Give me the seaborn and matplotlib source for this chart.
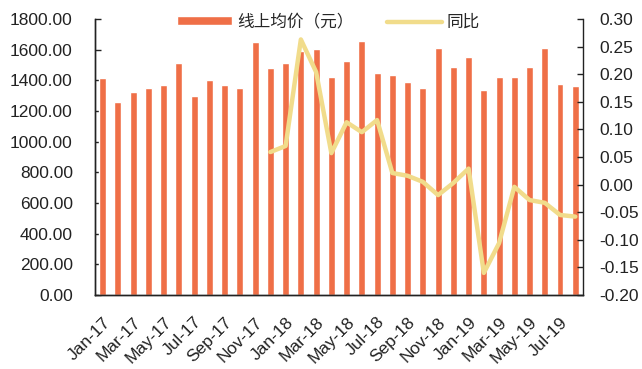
import numpy as np
import pandas as pd
import matplotlib
matplotlib.use("Agg")
import matplotlib.pyplot as plt
from matplotlib.ticker import FormatStrFormatter
import seaborn as sns

# Monthly online average price (yuan), Jan-2017 .. Aug-2019
months = ["Jan-17", "Feb-17", "Mar-17", "Apr-17", "May-17", "Jun-17", "Jul-17", "Aug-17",
          "Sep-17", "Oct-17", "Nov-17", "Dec-17", "Jan-18", "Feb-18", "Mar-18", "Apr-18",
          "May-18", "Jun-18", "Jul-18", "Aug-18", "Sep-18", "Oct-18", "Nov-18", "Dec-18",
          "Jan-19", "Feb-19", "Mar-19", "Apr-19", "May-19", "Jun-19", "Jul-19", "Aug-19"]
price = [1418, 1260, 1325, 1350, 1372, 1515, 1295, 1405,
         1372, 1350, 1648, 1482, 1515, 1590, 1605, 1425,
         1525, 1657, 1450, 1437, 1392, 1348, 1612, 1490,
         1555, 1340, 1425, 1425, 1490, 1612, 1373, 1360]

# Year-on-year change, available from Dec-17 onward
yoy_months = months[11:]
yoy = [0.059, 0.070, 0.263, 0.204, 0.057, 0.113, 0.095, 0.117,
       0.021, 0.016, 0.005, -0.019, 0.003, 0.029, -0.160, -0.106,
       -0.004, -0.028, -0.033, -0.055, -0.058]

price_ticks = [0, 200, 400, 600, 800, 1000, 1200, 1400, 1600, 1800]
yoy_ticks = [-0.20, -0.15, -0.10, -0.05, 0.00, 0.05, 0.10, 0.15, 0.20, 0.25, 0.30]

bar_color = "#EF6F47"
line_color = "#F1DC8B"
ink = "#222222"

sns.set_theme(style="white")
plt.rcParams["font.family"] = ["Liberation Sans", "Noto Sans CJK SC", "DejaVu Sans"]

fig = plt.figure(figsize=(6.42, 3.69), dpi=100)
ax = fig.add_axes([0.148, 0.2005, 0.760, 0.748])

df = pd.DataFrame({"month": months, "price": price})
sns.barplot(data=df, x="month", y="price", order=months, ax=ax,
            color=bar_color, saturation=1, width=0.45, label="线上均价（元）")
ax.set_xlim(-0.5, len(months) - 0.5)
ax.set_ylim(price_ticks[0], price_ticks[-1])
ax.set_yticks(price_ticks)
ax.yaxis.set_major_formatter(FormatStrFormatter("%.2f"))
ax.set_xlabel("")
ax.set_ylabel("")

# category labels every second month, tick marks on category boundaries
ax.set_xticks(range(0, len(months), 2))
ax.set_xticklabels(months[::2], rotation=45, ha="right", rotation_mode="anchor")
ax.set_xticks(np.arange(0.5, len(months) - 0.5, 1), minor=True)
ax.tick_params(axis="x", which="major", length=0, pad=14, labelsize=12.5, colors=ink)
ax.tick_params(axis="x", which="minor", direction="in", length=4, width=1, color=ink)
ax.tick_params(axis="y", direction="in", length=4, width=1, pad=16, labelsize=12.5,
               colors=ink, left=True)

ax2 = ax.twinx()
dfl = pd.DataFrame({"pos": [months.index(m) for m in yoy_months], "yoy": yoy})
sns.lineplot(data=dfl, x="pos", y="yoy", ax=ax2, color=line_color, linewidth=3.2,
             label="同比")
ax2.set_ylim(yoy_ticks[0], yoy_ticks[-1])
ax2.set_yticks(yoy_ticks)
ax2.yaxis.set_major_formatter(FormatStrFormatter("%.2f"))
ax2.set_ylabel("")
ax2.set_xlabel("")
ax2.tick_params(axis="y", direction="in", length=4, width=1, pad=12, labelsize=12.5,
                colors=ink, right=True)

for a in (ax, ax2):
    a.spines["top"].set_visible(False)
    for side in ("left", "right", "bottom"):
        a.spines[side].set_color(ink)
        a.spines[side].set_linewidth(1)
ax.spines["right"].set_visible(False)

h1, l1 = ax.get_legend_handles_labels()
h2, l2 = ax2.get_legend_handles_labels()
if ax.get_legend():
    ax.get_legend().remove()
if ax2.get_legend():
    ax2.get_legend().remove()
fig.legend(h1 + h2, l1 + l2, loc="center", bbox_to_anchor=(0.512, 0.94), ncol=2,
           frameon=False, handlelength=3.3, handleheight=0.4,
           handletextpad=0.3, columnspacing=2.0,
           prop={"family": ["Noto Sans CJK SC", "DejaVu Sans"], "size": 12})

fig.savefig("out.png", dpi=100)
